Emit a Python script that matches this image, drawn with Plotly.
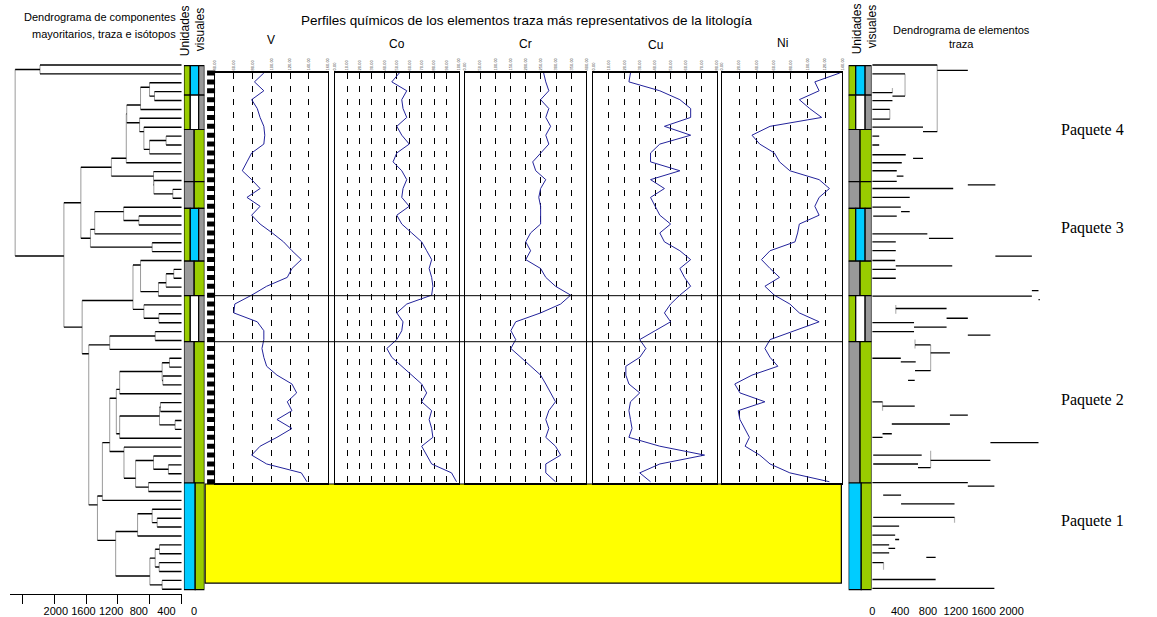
import plotly.graph_objects as go

W, H = 1157, 617
SANS = "Liberation Sans, Arial, sans-serif"
SERIF = "Liberation Serif, Times New Roman, serif"

# Vertical coordinate shared by every panel: one unit per leaf row, 0 = top leaf.
ROW_TOP, ROW_BOTTOM = -7.315, 62.12

# ---------------------------------------------------------------- data
# Visual units (row limits) and their colour code
unit_bounds = [0.06, 3.38, 7.26, 13.13, 16.13, 22.08, 25.96, 31.14, 47.04, 59.03]
unit_kind = ["A", "B", "C", "C", "A", "C", "B", "C", "D"]
section_breaks = [25.96, 31.14]
barren_interval = [47.15, 58.3]          # Paquete 1, no trace-element profile
profile_interval = [0.9, 47.04]

# Sampled rows of the geochemical profiles
sample_depth = [0.9, 1.9, 2.9, 3.9, 4.9, 5.9, 6.9, 7.9, 8.9, 9.9, 10.9, 11.9,
                12.9, 13.9, 14.9, 15.9, 16.9, 17.9, 18.9, 19.9, 20.9, 21.9, 22.9,
                23.9, 24.9, 25.9, 26.9, 27.9, 28.9, 29.9, 30.9, 31.9, 32.9, 33.9,
                34.9, 35.9, 36.9, 37.9, 38.9, 39.9, 40.9, 41.9, 42.9, 43.9, 44.9,
                45.9, 46.9]

V = [92, 82, 92, 79, 85, 88, 92, 93, 92, 79, 74, 69, 79, 88, 74, 88, 79, 88,
     101, 113, 122, 132, 122, 117, 95, 79, 61, 60, 85, 92, 92, 90, 92, 95, 106,
     122, 127, 117, 122, 106, 122, 106, 88, 79, 95, 132, 138]
Co = [52, 46, 58, 54, 55, 58, 50, 54, 60, 50, 47, 54, 58, 55, 54, 60, 50, 54,
      62, 70, 74, 78, 76, 78, 79, 78, 58, 50, 55, 54, 50, 42, 46, 54, 62, 70,
      74, 70, 78, 76, 78, 79, 70, 74, 78, 94, 98]
Cr = [259, 266, 276, 249, 276, 266, 282, 266, 276, 249, 223, 233, 266, 249, 243,
      249, 249, 249, 216, 200, 216, 200, 249, 266, 298, 348, 315, 249, 167, 151,
      167, 151, 184, 216, 249, 266, 282, 298, 276, 266, 276, 266, 298, 315, 266,
      266, 298]
Cu = [24, 23, 43, 56, 63, 63, 46, 63, 43, 37, 37, 56, 37, 46, 37, 40, 43, 50,
      43, 46, 56, 63, 56, 59, 63, 56, 50, 46, 50, 40, 30, 34, 30, 21, 21, 23, 30,
      24, 23, 24, 25, 23, 43, 72, 43, 30, 37]
Ni = [137, 108, 113, 90, 102, 116, 56, 35, 44, 61, 67, 79, 113, 125, 113, 108,
      113, 90, 88, 85, 56, 46, 56, 67, 50, 61, 79, 90, 113, 85, 56, 50, 56, 65,
      35, 15, 21, 50, 19, 21, 27, 32, 27, 44, 56, 79, 125]

profile_names = ["V", "Co", "Cr", "Cu", "Ni"]
profile_ranges = [(40, 160, 20), (0, 100, 10), (0, 400, 50), (0, 80, 10), (0, 140, 20)]

# Dendrogram of major, trace and isotope components: (height, upper, lower), leaves = row
dendro_left = (2091, (1779, 0, 1),
  (1479,
    (1266,
      (883,
        (696, (690, (517, (404, 2, (342, 3, 4)), 5),
                    (529, 6, (475, 7, (404, (196, 8, 9), 10)))), 11),
        (354, 12, (350, 13, (112, 14, 15)))),
      (1146, (1092, (729, 16, (538, 17, 18)), 19), (371, 20, 21))),
    (1250,
      (612, (517, 22, (292, (196, (100, 23, 24), 25), 26)), (475, 27, (287, 28, 29))),
      (1167,
        (904, (333, 30, 31), 32),
        (1058,
          (996,
            (904,
              (821, (779, (246, (154, 33, 34), (237, 35, 36)), 37),
                    (779, (279, (267, 38, 39), (83, 40, 41)), 42)),
              (725, 43, (579, (354, 44, (167, 45, 46)), (417, 47, 48)))),
            49),
          (829, (554, (371, 50, (308, 51, 52)), 53),
                (400, (333, (279, 54, 55), (283, 56, 57)), (246, 58, 59))))))))
dendro_left_ticks = [0, 400, 800, 1200, 1600, 2000]

# Trace-element dendrogram, drawn as its branch segments (row, from, to)
dr_row = [0.0, 0.6, 1.0, 3.1, 3.5, 4.0, 5.0, 6.1, 7.0, 7.5, 8.0, 9.0, 10.1, 10.5,
          11.0, 11.9, 12.5, 13.1, 13.5, 13.9, 14.9, 16.0, 16.5, 17.0, 19.0, 19.5,
          19.9, 20.9, 21.5, 22.0, 22.6, 23.0, 24.0, 25.4, 26.0, 26.4, 27.4, 28.5,
          29.0, 29.5, 30.0, 30.4, 31.5, 32.4, 33.0, 33.4, 34.4, 35.5, 37.9, 38.4,
          39.4, 40.4, 41.5, 41.9, 42.5, 43.9, 44.5, 44.9, 45.3, 47.0, 47.4, 48.4,
          49.4, 50.9, 51.9, 52.9, 53.4, 54.0, 54.4, 54.9, 55.4, 56.0, 57.9, 58.9]
dr_from = [0, 933, 0, 0, 290, 0, 0, 0, 0, 729, 0, 0, 0, 586, 0, 0, 352, 0, 1372, 0,
           0, 0, 414, 14, 0, 814, 0, 0, 1767, 0, 338, 0, 0, 2291, 0, 2386, 338,
           1067, 0, 600, 0, 1372, 614, 838, 0, 410, 614, 514, 0, 148, 1115, 281,
           148, 0, 1696, 14, 838, 14, 657, 0, 1372, 157, 414, 14, 0, 0, 329, 0,
           233, 0, 776, 0, 0, 0]
dr_to = [933, 1372, 471, 290, 471, 290, 252, 252, 729, 933, 100, 100, 481, 729,
         424, 352, 448, 352, 1767, 1162, 538, 410, 538, 352, 791, 1162, 338, 338,
         2291, 329, 1148, 338, 338, 2386, 2291, 2405, 1067, 1372, 600, 1067, 600,
         1696, 838, 1115, 410, 624, 838, 610, 148, 610, 1372, 1115, 281, 148,
         2386, 710, 1696, 657, 838, 1372, 1753, 414, 1181, 1181, 386, 329, 386,
         243, 329, 243, 910, 162, 910, 1753]
dr_link_x = [933, 471, 290, 252, 338, 614, 838, 148, 838, 1181, 162]
dr_link_top = [0.0, 1.0, 2.6, 5.0, 27.0, 30.9, 31.5, 37.9, 43.4, 50.9, 56.0]
dr_link_bottom = [7.5, 3.5, 3.1, 6.1, 28.0, 31.9, 34.4, 38.9, 45.3, 51.5, 56.8]
dendro_right_ticks = [0, 400, 800, 1200, 1600, 2000]

paquetes = ["Paquete 4", "Paquete 3", "Paquete 2", "Paquete 1"]
paquete_rows = [7.3, 18.3, 37.7, 51.3]

# ---------------------------------------------------------------- helpers
GREEN, BLUE, GREY, WHITE = "#99cc00", "#00ccff", "#999999", "#ffffff"
unit_columns = {
    "A": [(0.0, 0.31, GREEN), (0.31, 0.72, BLUE), (0.72, 1.0, GREY)],
    "B": [(0.0, 0.31, GREEN), (0.31, 0.72, WHITE), (0.72, 1.0, GREY)],
    "C": [(0.0, 0.5, GREY), (0.5, 1.0, GREEN)],
    "D": [(0.0, 0.55, BLUE), (0.55, 1.0, GREEN)],
}


def fx(p):
    return p / W


def fy(p):
    return 1 - p / H


fig = go.Figure()


def seg_trace(xs0, xs1, ys0, ys1, xaxis, color, width):
    xs, ys = [], []
    for a, b, c, d in zip(xs0, xs1, ys0, ys1):
        xs += [a, b, None]
        ys += [c, d, None]
    fig.add_trace(go.Scatter(x=xs, y=ys, xaxis=xaxis, yaxis="y", mode="lines",
                             line=dict(color=color, width=width), hoverinfo="skip"))


# left dendrogram: each cluster link sits on the boundary between its two members
h_rows, h_from, h_to, v_h, v_a, v_b = [], [], [], [], [], []


def walk(node):
    if isinstance(node, int):
        return float(node), 0.0, node
    h, a, b = node
    ra, ha, last_a = walk(a)
    rb, hb, last_b = walk(b)
    h_rows.extend([ra, rb])
    h_from.extend([ha, hb])
    h_to.extend([h, h])
    v_h.append(h)
    v_a.append(ra)
    v_b.append(rb)
    return last_a + 0.5, h, last_b


walk(dendro_left)
seg_trace(v_h, v_h, v_a, v_b, "x", "#9a9a9a", 1)
seg_trace(h_from, h_to, h_rows, h_rows, "x", "black", 1.4)

# right dendrogram
seg_trace(dr_link_x, dr_link_x, dr_link_top, dr_link_bottom, "x3", "#b4b4b4", 1.2)
seg_trace(dr_from, dr_to, dr_row, dr_row, "x3", "black", 1.3)

# label-only axis under the left dendrogram
fig.add_trace(go.Scatter(x=[0], y=[ROW_BOTTOM + 50], xaxis="x2", yaxis="y",
                         mode="markers", marker=dict(opacity=0), hoverinfo="skip"))

# sample markers strip
strip_x, strip_y = [], []
for d in sample_depth:
    strip_x += [0.05, 0.95, None]
    strip_y += [d, d, None]
fig.add_trace(go.Scatter(x=strip_x, y=strip_y, xaxis="x9", yaxis="y", mode="lines",
                         line=dict(color="black", width=5), hoverinfo="skip"))

# geochemical profiles
series = [V, Co, Cr, Cu, Ni]
panel_px = [(213, 326), (333, 458), (464, 586), (593, 717), (722, 843)]
panel_title_y = [40, 44, 44, 45, 43]
layout_axes = {}
for i, (name, vals, (lo, hi, step), (p0, p1)) in enumerate(
        zip(profile_names, series, profile_ranges, panel_px)):
    xa, ya = "x%d" % (4 + i), "y%d" % (2 + i)
    fig.add_trace(go.Scatter(x=vals, y=sample_depth, xaxis=xa, yaxis=ya, mode="lines",
                             line=dict(color="#23239b", width=1), hoverinfo="skip"))
    ticks = list(range(lo, hi + 1, step))
    layout_axes["xaxis%d" % (4 + i)] = dict(
        domain=[fx(p0), fx(p1)], range=[lo, hi], anchor=ya, side="top",
        showline=True, mirror=True, linecolor="black", linewidth=1.6,
        tickmode="array", tickvals=ticks, ticktext=["%.2f" % t for t in ticks],
        tickangle=-90, tickfont=dict(size=4, family=SANS, color="#444"),
        ticks="", showgrid=True, gridcolor="black", gridwidth=1, griddash="6px,7px",
        zeroline=False, fixedrange=True)
    layout_axes["yaxis%d" % (2 + i)] = dict(
        domain=[fy(483), fy(73)], range=[profile_interval[1], profile_interval[0]],
        anchor=xa, showline=True, mirror=True, linecolor="black", linewidth=1.3,
        showticklabels=False, ticks="", showgrid=False, zeroline=False, fixedrange=True)

shapes = []
# visual-unit columns, left and right
for axis in ("x10", "x11"):
    for k, kind in enumerate(unit_kind):
        for a, b, col in unit_columns[kind]:
            shapes.append(dict(type="rect", xref=axis, yref="y", x0=a, x1=b,
                               y0=unit_bounds[k], y1=unit_bounds[k + 1],
                               fillcolor=col, line=dict(color="black", width=1.2)))
# barren interval box
shapes.append(dict(type="rect", xref="paper", yref="y", x0=fx(203), x1=fx(842),
                   y0=barren_interval[0], y1=barren_interval[1], fillcolor="#ffff00",
                   line=dict(color="black", width=1.2), layer="below"))
for b in section_breaks:
    shapes.append(dict(type="line", xref="paper", yref="y", x0=fx(205), x1=fx(843),
                       y0=b, y1=b, line=dict(color="black", width=1)))

ann = []


def text(s, x, y, size=11, family=SANS, angle=0, xanchor="center"):
    ann.append(dict(text=s, x=fx(x), y=fy(y), xref="paper", yref="paper",
                    showarrow=False, textangle=angle, xanchor=xanchor, yanchor="middle",
                    font=dict(size=size, family=family, color="black")))


text("Perfiles químicos de los elementos traza más representativos de la litología",
     526, 20, size=13.5)
for name, (p0, p1), ty in zip(profile_names, panel_px, panel_title_y):
    text(name, (p0 + p1) / 2, ty, size=12)
text("Dendrograma de componentes", 176, 17, size=11, xanchor="right")
text("mayoritarios, traza e isótopos", 176, 34, size=11, xanchor="right")
text("Unidades", 183, 31, size=12, angle=-90)
text("visuales", 198, 30, size=12, angle=-90)
text("Unidades", 858, 29, size=12, angle=-90)
text("visuales", 873, 27, size=12, angle=-90)
text("Dendrograma de elementos", 963, 30, size=11)
text("traza", 963, 44, size=11)
for name, r in zip(paquetes, paquete_rows):
    ann.append(dict(text=name, x=fx(1061), y=r, xref="paper", yref="y",
                    showarrow=False, xanchor="left", yanchor="middle",
                    font=dict(size=16, family=SERIF, color="black")))

hidden = dict(visible=False, fixedrange=True)
fig.update_layout(
    width=W, height=H, margin=dict(l=0, r=0, t=0, b=0),
    paper_bgcolor="white", plot_bgcolor="rgba(0,0,0,0)", showlegend=False,
    yaxis=dict(domain=[0, 1], range=[ROW_BOTTOM, ROW_TOP], **hidden),
    xaxis=dict(domain=[fx(7), fx(179.5)], range=[2156, 0], anchor="free",
               position=fy(594), showline=True, linecolor="black", linewidth=1.4,
               tickmode="array", tickvals=dendro_left_ticks, ticks="outside",
               ticklen=9, tickcolor="black", tickwidth=1, showticklabels=False,
               showgrid=False, zeroline=False, fixedrange=True),
    xaxis2=dict(domain=[fx(40), fx(205)], range=[2187, -187], anchor="free",
                position=fy(603), showline=False, ticks="", tickmode="array",
                tickvals=dendro_left_ticks,
                tickfont=dict(size=11, family=SANS, color="black"),
                showgrid=False, zeroline=False, fixedrange=True),
    xaxis3=dict(domain=[fx(873), 1], range=[0, 4058], anchor="free",
                position=fy(603), showline=False, ticks="", tickmode="array",
                tickvals=dendro_right_ticks,
                tickfont=dict(size=11, family=SANS, color="black"),
                showgrid=False, zeroline=False, fixedrange=True),
    xaxis9=dict(domain=[fx(204.5), fx(213.5)], range=[0, 1], anchor="y", **hidden),
    xaxis10=dict(domain=[fx(181.7), fx(202.3)], range=[0, 1], anchor="y", **hidden),
    xaxis11=dict(domain=[fx(849.3), fx(872.3)], range=[0, 1], anchor="y", **hidden),
    shapes=shapes, annotations=ann,
    **layout_axes,
)
# shapes referencing the unit axes need traces on them to exist
for axis in ("x10", "x11"):
    fig.add_trace(go.Scatter(x=[0.5], y=[ROW_BOTTOM + 50], xaxis=axis, yaxis="y",
                             mode="markers", marker=dict(opacity=0), hoverinfo="skip"))

fig.write_html("out.html")
